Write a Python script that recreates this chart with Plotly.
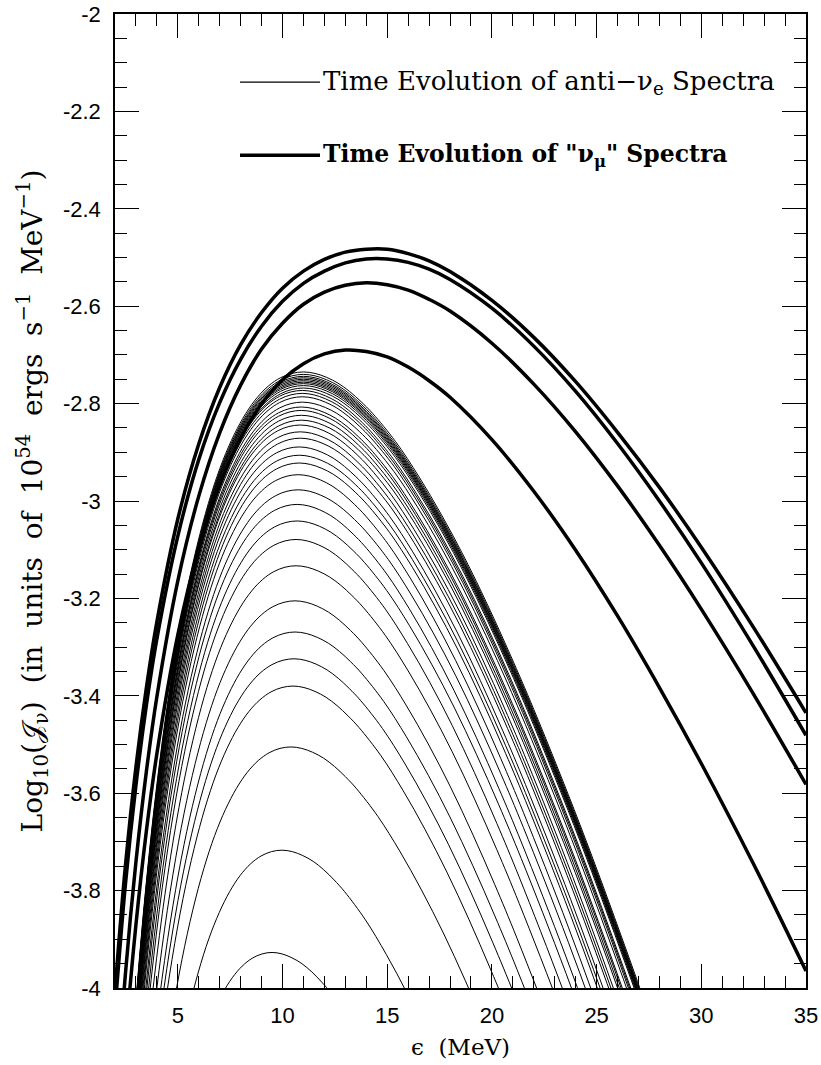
import plotly.graph_objects as go

# ---------------- data ----------------
# anti-nu_e spectra: peak position of every curve (MeV, log10 flux)
anti_nue_peak_energy = [9.5, 9.97, 10.4, 10.5, 10.55, 10.6, 10.6, 10.65, 10.65, 10.7,
                        10.7, 10.75, 10.75, 10.8, 10.8, 10.8, 10.85, 10.85, 10.85, 10.9,
                        10.9, 10.9, 10.9, 10.95, 10.95, 10.95, 10.95, 11.0, 11.0, 11.0,
                        11.0, 11.0, 11.0, 11.0, 11.0, 11.0, 11.0]
anti_nue_peak_logflux = [-3.927, -3.717, -3.505, -3.380, -3.324, -3.269, -3.205, -3.133, -3.079, -3.041,
                         -3.007, -2.977, -2.946, -2.922, -2.906, -2.889, -2.871, -2.858, -2.844, -2.834,
                         -2.824, -2.814, -2.807, -2.797, -2.786, -2.779, -2.773, -2.768, -2.763, -2.759,
                         -2.756, -2.753, -2.750, -2.747, -2.744, -2.740, -2.735]
# common shape of the anti-nu_e spectra: energy / peak energy, and drop below the peak (dex)
anti_nue_shape_ratio = [0.15, 0.2, 0.25, 0.3, 0.35, 0.4, 0.45, 0.5, 0.55, 0.6, 0.65, 0.7, 0.75,
                        0.8, 0.85, 0.9, 0.95, 1.0, 1.05, 1.1, 1.15, 1.2, 1.25, 1.3, 1.4, 1.5,
                        1.6, 1.7, 1.8, 1.9, 2.0, 2.2, 2.4, 2.6, 2.8]
anti_nue_shape_drop = [-2.365, -1.828, -1.437, -1.138, -0.903, -0.714, -0.561, -0.436, -0.334,
                       -0.250, -0.182, -0.128, -0.085, -0.052, -0.028, -0.012, -0.003, 0.0,
                       -0.003, -0.011, -0.023, -0.040, -0.061, -0.085, -0.143, -0.214, -0.294,
                       -0.382, -0.479, -0.583, -0.693, -0.929, -1.185, -1.455, -1.740]

# "nu_mu" spectra (four thick curves)
numu_energy = [2, 2.5, 3, 3.5, 4, 5, 6, 7, 8, 9, 10, 11, 12, 13, 14, 15, 16, 17, 18,
               20, 22, 24, 26, 28, 30, 32.5, 35]
numu_logflux_1 = [-4.006, -3.748, -3.546, -3.383, -3.248, -3.037, -2.883, -2.767, -2.679,
                  -2.613, -2.563, -2.528, -2.504, -2.489, -2.483, -2.483, -2.492, -2.507,
                  -2.529, -2.588, -2.664, -2.755, -2.859, -2.972, -3.095, -3.260, -3.435]
numu_logflux_2 = [-4.045, -3.786, -3.584, -3.419, -3.283, -3.072, -2.915, -2.798, -2.709,
                  -2.641, -2.590, -2.553, -2.528, -2.511, -2.503, -2.503, -2.510, -2.524,
                  -2.545, -2.604, -2.682, -2.775, -2.882, -3.000, -3.127, -3.299, -3.481]
numu_logflux_3 = [-4.264, -3.970, -3.741, -3.555, -3.402, -3.164, -2.990, -2.860, -2.762,
                  -2.688, -2.635, -2.596, -2.571, -2.557, -2.552, -2.556, -2.567, -2.586,
                  -2.610, -2.676, -2.760, -2.858, -2.969, -3.091, -3.222, -3.397, -3.582]
numu_logflux_4 = [-4.415, -4.108, -3.870, -3.677, -3.519, -3.275, -3.098, -2.968, -2.871,
                  -2.801, -2.751, -2.718, -2.698, -2.690, -2.693, -2.704, -2.725, -2.753,
                  -2.787, -2.874, -2.980, -3.101, -3.236, -3.383, -3.539, -3.746, -3.965]
numu_curves = [numu_logflux_1, numu_logflux_2, numu_logflux_3, numu_logflux_4]

x_tick_vals = [5, 10, 15, 20, 25, 30, 35]
x_tick_text = ["5", "10", "15", "20", "25", "30", "35"]
y_tick_vals = [-4, -3.8, -3.6, -3.4, -3.2, -3, -2.8, -2.6, -2.4, -2.2, -2]
y_tick_text = ["-4", "-3.8", "-3.6", "-3.4", "-3.2", "-3", "-2.8", "-2.6", "-2.4", "-2.2", "-2"]

# ---------------- figure ----------------
fig = go.Figure()

for ep, yp in zip(anti_nue_peak_energy, anti_nue_peak_logflux):
    fig.add_trace(go.Scatter(
        x=[ep * r for r in anti_nue_shape_ratio],
        y=[yp + d for d in anti_nue_shape_drop],
        mode="lines", line=dict(color="black", width=1, shape="spline"),
        showlegend=False, hoverinfo="skip"))

for ys in numu_curves:
    fig.add_trace(go.Scatter(
        x=numu_energy, y=ys, mode="lines",
        line=dict(color="black", width=3.5, shape="spline"),
        showlegend=False, hoverinfo="skip"))

serif = "DejaVu Serif"
sans = "Liberation Sans, Arial, sans-serif"

# legend
fig.add_shape(type="line", xref="x", yref="y", x0=7.97, x1=11.79, y0=-2.140, y1=-2.140,
              line=dict(color="black", width=1.2))
fig.add_shape(type="line", xref="x", yref="y", x0=7.97, x1=11.79, y0=-2.290, y1=-2.290,
              line=dict(color="black", width=3.5))
fig.add_annotation(x=11.85, y=-2.140, xref="x", yref="y", xanchor="left", yanchor="middle",
                   showarrow=False, text="Time Evolution of anti\u2212\u03bd<sub>e</sub> Spectra",
                   font=dict(family=serif, size=26, color="black"))
fig.add_annotation(x=11.85, y=-2.290, xref="x", yref="y", xanchor="left", yanchor="middle",
                   showarrow=False, text="<b>Time Evolution of \"\u03bd<sub>\u03bc</sub>\" Spectra</b>",
                   font=dict(family=serif, size=23.5, color="black"))

axis_common = dict(
    showline=True, linecolor="black", linewidth=1.5, mirror="allticks",
    ticks="inside", ticklen=24, tickwidth=1, tickcolor="black",
    showgrid=False, zeroline=False, ticklabeloverflow="allow",
    tickfont=dict(family=sans, size=22, color="black"),
)

fig.update_xaxes(
    range=[2, 35], tickmode="array", tickvals=x_tick_vals, ticktext=x_tick_text,
    minor=dict(ticks="inside", ticklen=12, tickwidth=1, tickcolor="black",
               tickmode="linear", tick0=0, dtick=1, showgrid=False),
    title=dict(text="\u03f5  (MeV)", font=dict(family=serif, size=23, color="black"), standoff=12),
    ticklabelstandoff=7,
    **axis_common)
fig.update_yaxes(
    range=[-4, -2], tickmode="array", tickvals=y_tick_vals, ticktext=y_tick_text,
    minor=dict(ticks="inside", ticklen=12, tickwidth=1, tickcolor="black",
               tickmode="linear", tick0=0, dtick=0.05, showgrid=False),
    title=dict(text="Log<sub>10</sub>(\U0001D4A5<sub>\u03bd</sub>)  (in  units  of  10<sup>54</sup>  ergs  s<sup>\u22121</sup>  MeV<sup>\u22121</sup>)",
               font=dict(family=serif, size=28, color="black"), standoff=12),
    ticklabelstandoff=8,
    **axis_common)

fig.update_layout(
    width=821, height=1065,
    margin=dict(l=115, r=15, t=14, b=77, autoexpand=False),
    paper_bgcolor="white", plot_bgcolor="white",
    showlegend=False,
)

fig.write_html("out.html")
